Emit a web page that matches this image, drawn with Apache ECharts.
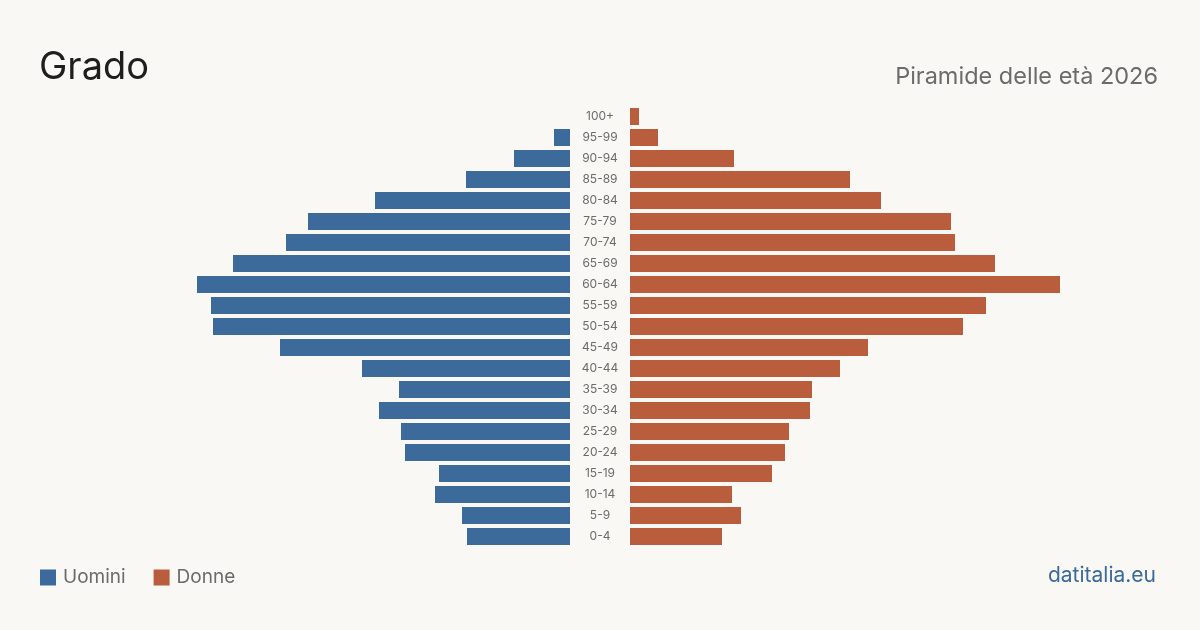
<!DOCTYPE html>
<html>
<head>
<meta charset="utf-8">
<script src="https://cdn.jsdelivr.net/npm/echarts@6/dist/echarts.min.js"></script>
<style>
  html, body { margin: 0; padding: 0; background: #f9f8f4; }
  #chart { width: 1200px; height: 630px; }
</style>
</head>
<body>
<div id="chart"></div>
<script>
  // Age classes, oldest first (top of the pyramid).
  const AGES = ['100+', '95-99', '90-94', '85-89', '80-84', '75-79', '70-74', '65-69', '60-64', '55-59',
    '50-54', '45-49', '40-44', '35-39', '30-34', '25-29', '20-24', '15-19', '10-14', '5-9', '0-4'];
  // Residents per class.
  const MEN   = [0, 16, 56, 104, 195, 262, 284, 337, 373, 359, 357, 290, 208, 171, 191, 169, 165, 131, 135, 108, 103];
  const WOMEN = [9, 28, 104, 220, 251, 321, 325, 365, 430, 356, 333, 238, 210, 182, 180, 159, 155, 142, 102, 111, 92];
  const SIDE_MAX = 440;

  const BLUE = '#3b6a9b';
  const RUST = '#b95d3d';
  const FONT = 'Inter, "Noto Sans", sans-serif';

  const chart = echarts.init(document.getElementById('chart'));
  chart.setOption({
    backgroundColor: '#f9f8f4',
    animation: false,
    textStyle: { fontFamily: FONT },
    title: [
      { text: 'Grado', left: 39, top: 49, padding: 0, textStyle: { fontSize: 38, fontWeight: 'normal', color: '#1e1e1e', fontFamily: FONT } },
      { text: 'Piramide delle età 2026', right: 42, top: 65, padding: 0, textStyle: { fontSize: 23.5, fontWeight: 'normal', color: '#6b6b6b', fontFamily: FONT } },
      { text: 'datitalia.eu', right: 44, top: 565, padding: 0, textStyle: { fontSize: 21, fontWeight: 'normal', color: BLUE, fontFamily: FONT } },
    ],
    legend: {
      left: 40, top: 568, padding: 0,
      icon: 'rect', itemWidth: 16, itemHeight: 16, itemGap: 28,
      textStyle: { fontSize: 19, color: '#6b6b6b', fontFamily: FONT, padding: [0, 0, 0, 2] },
      data: ['Uomini', 'Donne'],
    },
    grid: [
      { left: 570 - SIDE_MAX, width: SIDE_MAX, top: 106, height: 441 },
      { left: 630, width: SIDE_MAX, top: 106, height: 441 },
    ],
    xAxis: [
      { type: 'value', gridIndex: 0, min: 0, max: SIDE_MAX, inverse: true, show: false },
      { type: 'value', gridIndex: 1, min: 0, max: SIDE_MAX, show: false },
    ],
    yAxis: [
      { type: 'category', gridIndex: 0, data: AGES, inverse: true, show: false },
      {
        type: 'category', gridIndex: 1, data: AGES, inverse: true, position: 'left',
        axisLine: { show: false }, axisTick: { show: false },
        axisLabel: { align: 'center', margin: 30, fontSize: 12, color: '#6b6b6b', fontFamily: FONT, lineHeight: 14, verticalAlign: 'middle', padding: [2, 0, 0, 0] },
      },
    ],
    series: [
      { name: 'Uomini', type: 'bar', xAxisIndex: 0, yAxisIndex: 0, data: MEN, barWidth: 17, itemStyle: { color: BLUE } },
      { name: 'Donne', type: 'bar', xAxisIndex: 1, yAxisIndex: 1, data: WOMEN, barWidth: 17, itemStyle: { color: RUST } },
    ],
  });
</script>
</body>
</html>
